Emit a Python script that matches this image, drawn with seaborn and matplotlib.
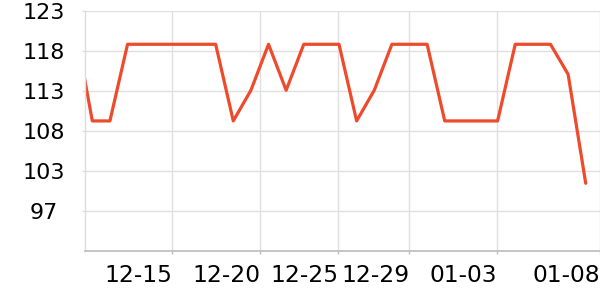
import matplotlib
matplotlib.use("Agg")
import matplotlib.pyplot as plt
import seaborn as sns
import numpy as np
import pandas as pd

# ---- data ----
day_index = list(range(-1, 29))
values = [121.3,
          108.8, 108.8, 118.7, 118.7, 118.7, 118.7, 118.7, 118.7,
          108.8, 112.76, 118.7, 112.76, 118.7, 118.7, 118.7,
          108.8, 112.76, 118.7, 118.7, 118.7,
          108.8, 108.8, 108.8, 108.8,
          118.7, 118.7, 118.7, 114.83, 100.75]
x_tick_pos = [4.54, 9.53, 13.96, 17.99, 22.98, 28.8]
x_tick_labels = ["12-15", "12-20", "12-25", "12-29", "01-03", "01-08"]
y_tick_labels = ["97", "103", "108", "113", "118", "123"]

df = pd.DataFrame({"day": day_index, "value": values})

sns.set_style("whitegrid")
plt.rcParams["font.family"] = ["DejaVu Sans"]

fig = plt.figure(figsize=(6, 3), dpi=100)
ax = fig.add_axes([85.3 / 600, 1 - 251 / 300, 1 - 85.3 / 600, 240 / 300])

sns.lineplot(data=df, x="day", y="value", ax=ax, color="#ee4a2c",
             linewidth=2.3, estimator=None, sort=False)

ax.set_xlim(-0.397, 28.81)
ax.set_ylim(92, 123)

ax.set_xticks(x_tick_pos)
ax.set_xticklabels(x_tick_labels, ha="right")
ax.set_yticks(np.linspace(92, 123, 7)[1:])
ax.set_yticklabels(y_tick_labels, ha="center")

ax.set_xlabel("")
ax.set_ylabel("")

ax.grid(True, color="#e0e0e0", linewidth=1)
for s in ["top", "right"]:
    ax.spines[s].set_visible(False)
ax.spines["left"].set_color("#dddddd")
ax.spines["left"].set_linewidth(1)
ax.spines["bottom"].set_color("#bbbbbb")
ax.spines["bottom"].set_linewidth(1.2)

ax.tick_params(axis="x", length=2.2, width=1, color="#bbbbbb", pad=7,
               labelsize=16.8, labelcolor="black", bottom=True)
ax.tick_params(axis="y", length=2.2, width=1, color="#dddddd", pad=28,
               labelsize=16, labelcolor="black", left=True)

fig.savefig("out.png", dpi=100)
